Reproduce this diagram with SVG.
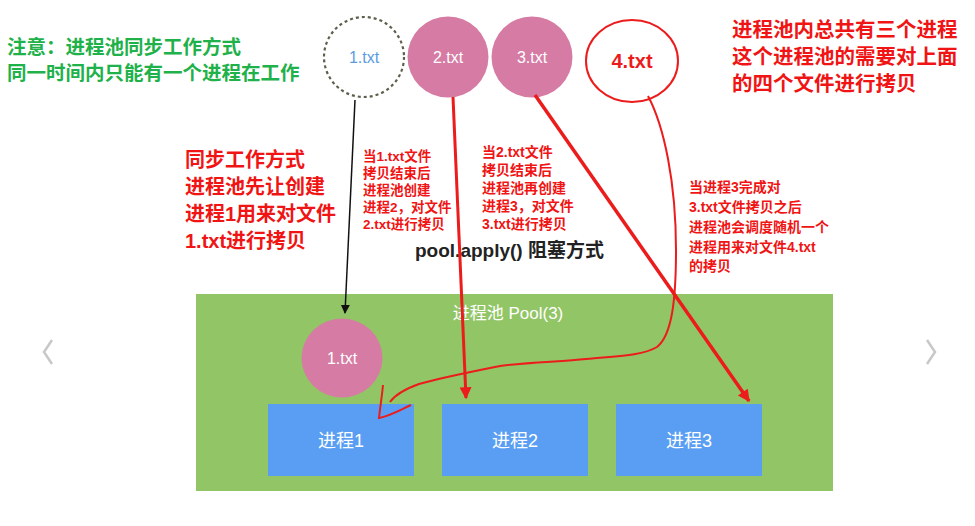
<svg xmlns="http://www.w3.org/2000/svg" width="975" height="526" viewBox="0 0 975 526">
<defs>
<style>
.cjk{font-family:"Liberation Sans","Noto Sans CJK SC",sans-serif}
.g{fill:#1fb14a;font-size:19.5px;font-weight:bold}
.rb{fill:#f01414;font-size:20.5px;font-weight:bold}
.rs{fill:#f01414;font-size:13.5px;font-weight:bold}
.w{fill:#ffffff;text-anchor:middle}
.pink{fill:#d67ca4}
.box{fill:#599ef2}
.red{stroke:#ec1c1c;fill:none}
</style>
<marker id="ab" viewBox="0 0 10 10" refX="9" refY="5" markerWidth="9" markerHeight="9" markerUnits="userSpaceOnUse" orient="auto"><path d="M0,0 L10,5 L0,10 Z" fill="#111"/></marker>
<marker id="ar" viewBox="0 0 10 10" refX="9" refY="5" markerWidth="16" markerHeight="12" markerUnits="userSpaceOnUse" orient="auto"><path d="M0,0 L10,5 L0,10 Z" fill="#ec1c1c"/></marker>
</defs>
<rect width="975" height="526" fill="#ffffff"/>

<g id="nav">
<polyline points="52,340 44,352 52,364" fill="none" stroke="#c8c8c8" stroke-width="2.5"/>
<polyline points="927,340 935,352 927,364" fill="none" stroke="#c8c8c8" stroke-width="2.5"/>
</g>

<g id="notes" class="cjk">
<text class="g" x="7" y="54">注意：进程池同步工作方式<tspan x="7" y="80">同一时间内只能有一个进程在工作</tspan></text>
<text class="rb" x="732" y="37">进程池内总共有三个进程<tspan x="732" y="64">这个进程池的需要对上面</tspan><tspan x="732" y="91">的四个文件进行拷贝</tspan></text>
<text class="rb" x="185" y="167" style="font-size:20px">同步工作方式<tspan x="185" y="194">进程池先让创建</tspan><tspan x="185" y="221">进程1用来对文件</tspan><tspan x="185" y="248">1.txt进行拷贝</tspan></text>
<text class="rs" x="363" y="161">当1.txt文件<tspan x="363" y="178">拷贝结束后</tspan><tspan x="363" y="195">进程池创建</tspan><tspan x="363" y="212">进程2，对文件</tspan><tspan x="363" y="229">2.txt进行拷贝</tspan></text>
<text class="rs" x="482" y="157" style="font-size:14px">当2.txt文件<tspan x="482" y="175">拷贝结束后</tspan><tspan x="482" y="193">进程池再创建</tspan><tspan x="482" y="211">进程3，对文件</tspan><tspan x="482" y="229">3.txt进行拷贝</tspan></text>
<text class="rs" x="689" y="192" style="font-size:14px">当进程3完成对<tspan x="689" y="212">3.txt文件拷贝之后</tspan><tspan x="689" y="232">进程池会调度随机一个</tspan><tspan x="689" y="252">进程用来对文件4.txt</tspan><tspan x="689" y="271">的拷贝</tspan></text>
<text x="415" y="257" style="font-size:19px;font-weight:bold;fill:#222">pool.apply() 阻塞方式</text>
</g>

<g id="pool">
<rect x="196" y="294" width="637" height="197" fill="#92c565"/>
<text class="cjk w" x="508" y="319" style="font-size:17px">进程池 Pool(3)</text>
</g>

<g id="file1-pool">
<ellipse class="pink" cx="342" cy="358" rx="40.5" ry="39.5"/>
<text class="cjk w" x="342" y="364" style="font-size:16px">1.txt</text>
</g>

<g id="proc1">
<rect class="box" x="268" y="404" width="146" height="72"/>
<text class="cjk w" x="341" y="447" style="font-size:18px">进程1</text>
</g>
<g id="proc2">
<rect class="box" x="442" y="404" width="146" height="72"/>
<text class="cjk w" x="515" y="447" style="font-size:18px">进程2</text>
</g>
<g id="proc3">
<rect class="box" x="616" y="404" width="146" height="72"/>
<text class="cjk w" x="689" y="447" style="font-size:18px">进程3</text>
</g>

<g id="file1">
<circle cx="364" cy="57" r="40" fill="#ffffff" stroke="#5e5e4c" stroke-width="2.2" stroke-dasharray="3 3"/>
<text class="cjk" x="364" y="63" text-anchor="middle" style="font-size:16px;fill:#5b9be2">1.txt</text>
</g>
<g id="file2">
<circle class="pink" cx="448" cy="57" r="40.5"/>
<text class="cjk w" x="448" y="63" style="font-size:16px">2.txt</text>
</g>
<g id="file3">
<circle class="pink" cx="532" cy="57" r="40.5"/>
<text class="cjk w" x="532" y="63" style="font-size:16px">3.txt</text>
</g>
<g id="file4">
<ellipse cx="632" cy="61" rx="46" ry="41" fill="none" stroke="#ec1c1c" stroke-width="2"/>
<text class="cjk" x="632" y="68" text-anchor="middle" style="font-size:20px;font-weight:bold;fill:#ec1c1c">4.txt</text>
</g>

<g id="connectors">
<line x1="355" y1="100" x2="345" y2="313" stroke="#111" stroke-width="1.5" marker-end="url(#ab)"/>
<line class="red" x1="453" y1="97" x2="466" y2="398" stroke-width="3" marker-end="url(#ar)"/>
<line class="red" x1="535" y1="95" x2="749" y2="401" stroke-width="3.5" marker-end="url(#ar)"/>
<path class="red" stroke-width="2" d="M648,96 C664,126 676,182 676,250 C676,300 672,335 657,347 C640,357 610,356 586,359 C560,362 520,362 495,367 C470,372 440,378 419,384 C405,389 395,395 390,402"/>
<path class="red" stroke-width="2" d="M383,385 C382,396 380,408 379,418 C390,416 400,410 411,405"/>
</g>
</svg>
